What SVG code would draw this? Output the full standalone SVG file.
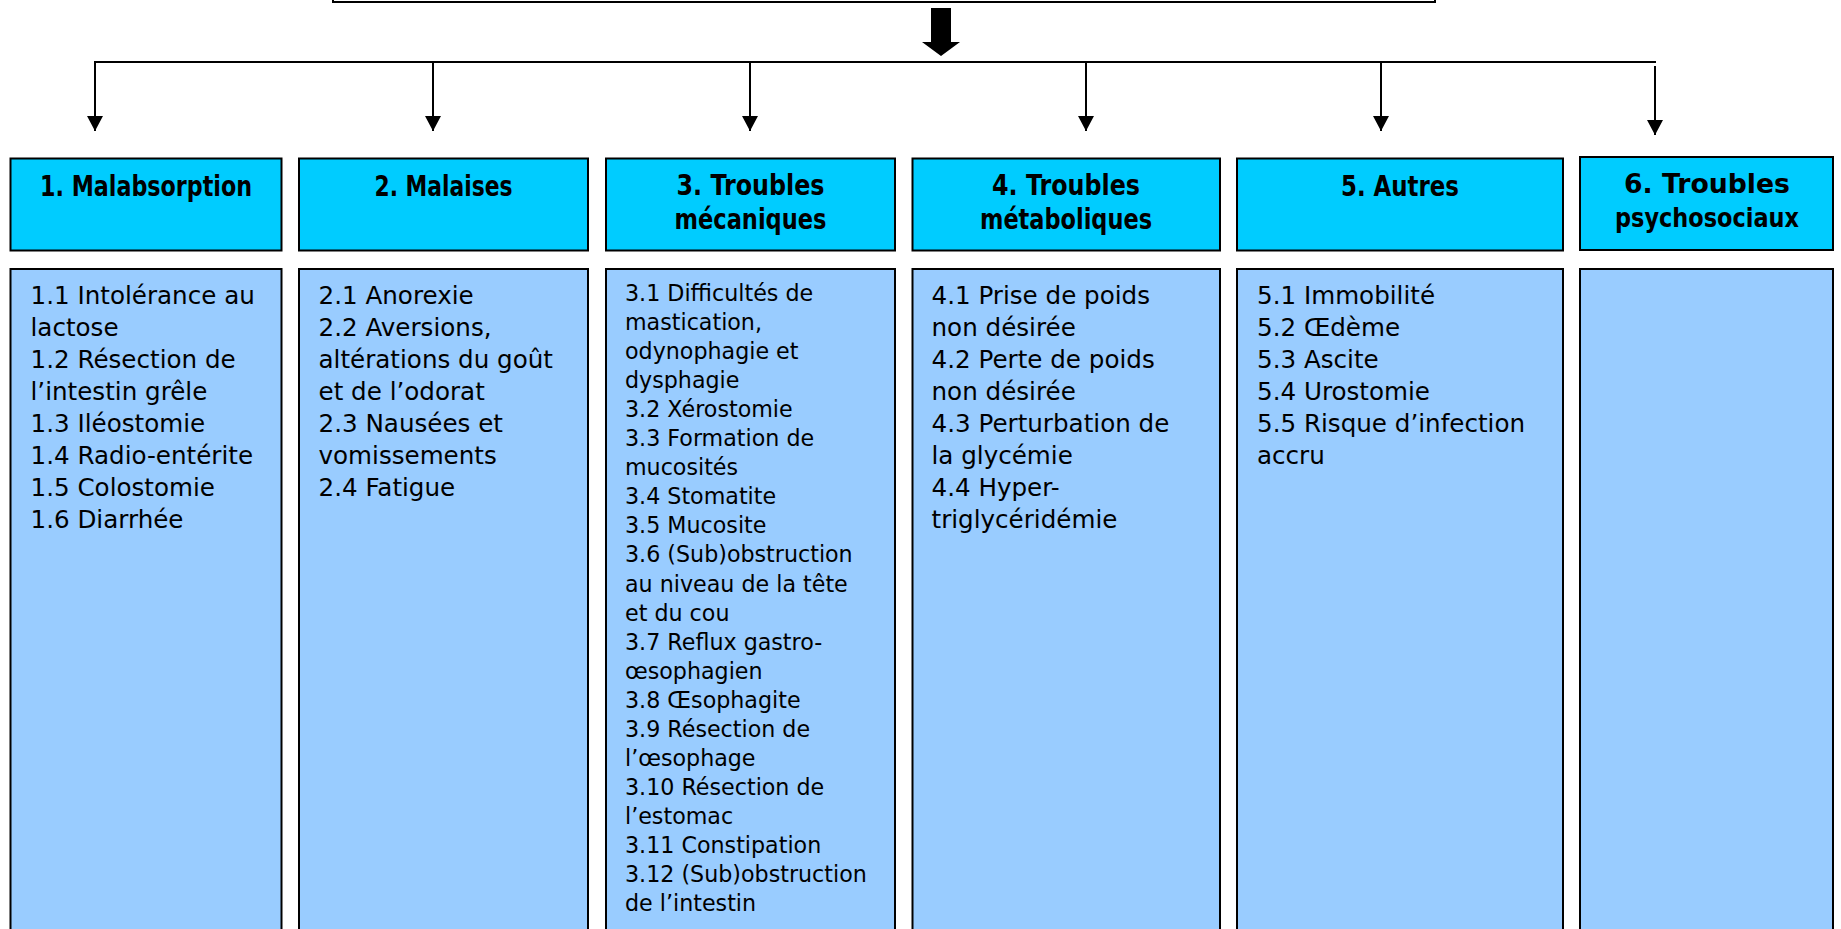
<svg xmlns="http://www.w3.org/2000/svg" width="1841" height="929" viewBox="0 0 1841 929">
<style>
.hdr{fill:#00CCFF;stroke:#000;stroke-width:2}
.det{fill:#99CCFF;stroke:#000;stroke-width:2}
.ht{font-family:"DejaVu Sans",sans-serif;font-weight:bold;font-size:28px;fill:#000;text-anchor:middle}
.ht6{font-size:26px}
.bt{font-family:"DejaVu Sans",sans-serif;font-size:24.6px;fill:#000}
.bt3{font-family:"DejaVu Sans",sans-serif;font-size:22.2px;fill:#000}
.ln{stroke:#000;stroke-width:2;fill:none}
</style>
<defs>
<marker id="ah" markerWidth="16" markerHeight="16" refX="15" refY="8" orient="auto" markerUnits="userSpaceOnUse">
<path d="M0,0 L15,8 L0,16 Z" fill="#000"/>
</marker>
</defs>
<g id="top">
<rect x="333" y="-10" width="1102" height="12" fill="#fff" stroke="#000" stroke-width="2"/>
</g>
<g id="connectors">
<path d="M931,8 H951 V42 H960 L941,56 L922,42 H931 Z" fill="#000"/>
<line class="ln" x1="94" y1="62" x2="1656" y2="62" stroke-width="2.5"/>
<line class="ln" x1="95" y1="62" x2="95" y2="131" marker-end="url(#ah)"/>
<line class="ln" x1="433" y1="62" x2="433" y2="131" marker-end="url(#ah)"/>
<line class="ln" x1="750" y1="62" x2="750" y2="131" marker-end="url(#ah)"/>
<line class="ln" x1="1086" y1="62" x2="1086" y2="131" marker-end="url(#ah)"/>
<line class="ln" x1="1381" y1="62" x2="1381" y2="131" marker-end="url(#ah)"/>
<line class="ln" x1="1655" y1="66" x2="1655" y2="135" marker-end="url(#ah)"/>
</g>
<g id="n1">
<rect class="hdr" x="10.5" y="158.5" width="271" height="92"/>
<text class="ht" x="146" y="196" textLength="212" lengthAdjust="spacingAndGlyphs">1. Malabsorption</text>
<rect class="det" x="10.5" y="269" width="271" height="680"/>
<text class="bt" x="30.5" y="304"><tspan x="30.5">1.1 Intolérance au</tspan><tspan x="30.5" dy="32">lactose</tspan><tspan x="30.5" dy="32">1.2 Résection de</tspan><tspan x="30.5" dy="32">l’intestin grêle</tspan><tspan x="30.5" dy="32">1.3 Iléostomie</tspan><tspan x="30.5" dy="32">1.4 Radio-entérite</tspan><tspan x="30.5" dy="32">1.5 Colostomie</tspan><tspan x="30.5" dy="32">1.6 Diarrhée</tspan></text>
</g>
<g id="n2">
<rect class="hdr" x="299" y="158.5" width="289" height="92"/>
<text class="ht" x="443.5" y="196" textLength="138" lengthAdjust="spacingAndGlyphs">2. Malaises</text>
<rect class="det" x="299" y="269" width="289" height="680"/>
<text class="bt" x="318.5" y="304"><tspan x="318.5">2.1 Anorexie</tspan><tspan x="318.5" dy="32">2.2 Aversions,</tspan><tspan x="318.5" dy="32">altérations du goût</tspan><tspan x="318.5" dy="32">et de l’odorat</tspan><tspan x="318.5" dy="32">2.3 Nausées et</tspan><tspan x="318.5" dy="32">vomissements</tspan><tspan x="318.5" dy="32">2.4 Fatigue</tspan></text>
</g>
<g id="n3">
<rect class="hdr" x="606" y="158.5" width="289" height="92"/>
<text class="ht" x="750.5" y="195" textLength="148" lengthAdjust="spacingAndGlyphs">3. Troubles</text>
<text class="ht" x="750.5" y="228.5" textLength="152" lengthAdjust="spacingAndGlyphs">mécaniques</text>
<rect class="det" x="606" y="269" width="289" height="680"/>
<text class="bt3" x="625" y="301"><tspan x="625">3.1 Difficultés de</tspan><tspan x="625" dy="29.05">mastication,</tspan><tspan x="625" dy="29.05">odynophagie et</tspan><tspan x="625" dy="29.05">dysphagie</tspan><tspan x="625" dy="29.05">3.2 Xérostomie</tspan><tspan x="625" dy="29.05">3.3 Formation de</tspan><tspan x="625" dy="29.05">mucosités</tspan><tspan x="625" dy="29.05">3.4 Stomatite</tspan><tspan x="625" dy="29.05">3.5 Mucosite</tspan><tspan x="625" dy="29.05">3.6 (Sub)obstruction</tspan><tspan x="625" dy="29.05">au niveau de la tête</tspan><tspan x="625" dy="29.05">et du cou</tspan><tspan x="625" dy="29.05">3.7 Reflux gastro-</tspan><tspan x="625" dy="29.05">œsophagien</tspan><tspan x="625" dy="29.05">3.8 Œsophagite</tspan><tspan x="625" dy="29.05">3.9 Résection de</tspan><tspan x="625" dy="29.05">l’œsophage</tspan><tspan x="625" dy="29.05">3.10 Résection de</tspan><tspan x="625" dy="29.05">l’estomac</tspan><tspan x="625" dy="29.05">3.11 Constipation</tspan><tspan x="625" dy="29.05">3.12 (Sub)obstruction</tspan><tspan x="625" dy="29.05">de l’intestin</tspan></text>
</g>
<g id="n4">
<rect class="hdr" x="912.5" y="158.5" width="307.5" height="92"/>
<text class="ht" x="1066" y="195" textLength="148" lengthAdjust="spacingAndGlyphs">4. Troubles</text>
<text class="ht" x="1066" y="228.5" textLength="172" lengthAdjust="spacingAndGlyphs">métaboliques</text>
<rect class="det" x="912.5" y="269" width="307.5" height="680"/>
<text class="bt" x="931.5" y="304"><tspan x="931.5">4.1 Prise de poids</tspan><tspan x="931.5" dy="32">non désirée</tspan><tspan x="931.5" dy="32">4.2 Perte de poids</tspan><tspan x="931.5" dy="32">non désirée</tspan><tspan x="931.5" dy="32">4.3 Perturbation de</tspan><tspan x="931.5" dy="32">la glycémie</tspan><tspan x="931.5" dy="32">4.4 Hyper-</tspan><tspan x="931.5" dy="32">triglycéridémie</tspan></text>
</g>
<g id="n5">
<rect class="hdr" x="1237" y="158.5" width="326" height="92"/>
<text class="ht" x="1400" y="196" textLength="118" lengthAdjust="spacingAndGlyphs">5. Autres</text>
<rect class="det" x="1237" y="269" width="326" height="680"/>
<text class="bt" x="1257" y="304"><tspan x="1257">5.1 Immobilité</tspan><tspan x="1257" dy="32">5.2 Œdème</tspan><tspan x="1257" dy="32">5.3 Ascite</tspan><tspan x="1257" dy="32">5.4 Urostomie</tspan><tspan x="1257" dy="32">5.5 Risque d’infection</tspan><tspan x="1257" dy="32">accru</tspan></text>
</g>
<g id="n6">
<rect class="hdr" x="1580" y="157" width="253" height="93"/>
<text class="ht ht6" x="1707" y="193" textLength="166" lengthAdjust="spacingAndGlyphs">6. Troubles</text>
<text class="ht ht6" x="1707" y="226.5" textLength="184" lengthAdjust="spacingAndGlyphs">psychosociaux</text>
<rect class="det" x="1580" y="269" width="253" height="680"/>
</g>
</svg>
